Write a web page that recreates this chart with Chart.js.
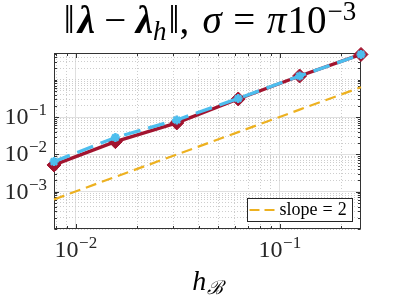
<!DOCTYPE html>
<html><head><meta charset="utf-8">
<script src="https://cdn.jsdelivr.net/npm/chart.js@4.4.1/dist/chart.umd.min.js"></script>
<style>html,body{margin:0;padding:0;background:#fff;overflow:hidden}#wrap{width:399px;height:299px}</style>
</head><body><div id="wrap"><canvas id="c" width="399" height="299"></canvas></div>
<script>
// ---- data ----
const hValues = [1/128, 1/64, 1/32, 1/16, 1/8, 1/4];
const errSolid = [5.2e-3, 2.19e-2, 6.95e-2, 0.305, 1.26, 4.76];
const errDashed = [6.4e-3, 2.84e-2, 8.36e-2, 0.315, 1.26, 4.76];
const slopeRef = [6.2e-4, 2.5e-3, 9.9e-3, 3.95e-2, 0.158, 0.63];
const xTickValues = [1e-2, 1e-1];
const xTickExponents = ['\u22122', '\u22121'];
const yTickValues = [1e-3, 1e-2, 1e-1];
const yTickExponents = ['\u22123', '\u22122', '\u22121'];
const legendLabel = 'slope = 2';
const xRange = [1/128, 1/4];
const yRange = [1e-4, 5.2];

const SERIF = '"Liberation Serif", "DejaVu Serif", serif';
const AXIS_COLOR = '#333333';
const MAJOR_GRID = '#E0E0E0';
const MINOR_GRID = '#CDCDCD';

function gridValues(min, max) {
  const out = [];
  for (let e = Math.floor(Math.log10(min)); e <= Math.ceil(Math.log10(max)); e++) {
    for (let k = 1; k <= 9; k++) {
      const v = k * Math.pow(10, e);
      if (v >= min * 0.999 && v <= max * 1.001) out.push(v);
    }
  }
  return out;
}
function isIn(v, arr) { return arr.some(a => Math.abs(Math.log10(a) - Math.log10(v)) < 1e-6); }

function pts(ys) { return hValues.map((h, i) => ({x: h, y: ys[i]})); }

function drawRich(ctx, segs, x0, baseline, align) {
  let total = 0;
  for (const s of segs) { ctx.font = s.font; s.w = ctx.measureText(s.t).width; total += (s.pre || 0) + s.w + (s.post || 0); }
  let x = align === 'center' ? x0 - total / 2 : (align === 'right' ? x0 - total : x0);
  ctx.textAlign = 'left';
  ctx.textBaseline = 'alphabetic';
  for (const s of segs) {
    x += s.pre || 0;
    ctx.font = s.font;
    ctx.fillText(s.t, x, baseline + (s.dy || 0));
    x += s.w + (s.post || 0);
  }
}

const deco = {
  id: 'deco',
  beforeDatasetsDraw(chart) {
    const ctx = chart.ctx, a = chart.chartArea;
    const xs = chart.scales.x, ys = chart.scales.y;
    ctx.save();
    ctx.strokeStyle = AXIS_COLOR;
    ctx.lineWidth = 1;
    const L = Math.round(a.left) + 0.5, R = Math.round(a.right) - 0.5;
    const T = Math.round(a.top) + 0.5, B = Math.round(a.bottom) - 0.5;
    ctx.strokeRect(L, T, R - L, B - T);
    ctx.beginPath();
    for (const v of gridValues(xRange[0], xRange[1])) {
      const px = Math.round(xs.getPixelForValue(v)) + 0.5;
      const len = isIn(v, xTickValues) ? 4.5 : 2.5;
      ctx.moveTo(px, B); ctx.lineTo(px, B - len);
      ctx.moveTo(px, T); ctx.lineTo(px, T + len);
    }
    for (const v of gridValues(yRange[0], yRange[1])) {
      const py = Math.round(ys.getPixelForValue(v)) + 0.5;
      const len = isIn(v, yTickValues) ? 4.5 : 2.5;
      ctx.moveTo(L, py); ctx.lineTo(L + len, py);
      ctx.moveTo(R, py); ctx.lineTo(R - len, py);
    }
    ctx.stroke();
    ctx.restore();
  },
  afterDraw(chart) {
    const ctx = chart.ctx, a = chart.chartArea;
    const xs = chart.scales.x, ys = chart.scales.y;
    ctx.save();
    ctx.fillStyle = '#262626';
    // y tick labels
    yTickValues.forEach((v, i) => {
      const py = ys.getPixelForValue(v);
      drawRich(ctx, [
        {t: '10', font: `24px ${SERIF}`},
        {t: yTickExponents[i], font: `17px ${SERIF}`, dy: -9, pre: 0.5}
      ], a.left - 7, py + 7, 'right');
    });
    // x tick labels
    xTickValues.forEach((v, i) => {
      const px = xs.getPixelForValue(v);
      drawRich(ctx, [
        {t: '10', font: `24px ${SERIF}`},
        {t: xTickExponents[i], font: `17px ${SERIF}`, dy: -9, pre: 0.5}
      ], px, a.bottom + 28, 'center');
    });
    // x axis label
    ctx.fillStyle = '#000';
    drawRich(ctx, [
      {t: 'h', font: `italic 28px ${SERIF}`},
      {t: '\u212C', font: `italic 19px ${SERIF}`, dy: 4, pre: 0.5}
    ], (a.left + a.right) / 2, 290, 'center');
    // title
    const F = 39, S = 27;
    const reg = `${F}px ${SERIF}`, it = `italic ${F}px ${SERIF}`, bi = `italic bold ${F}px ${SERIF}`;
    drawRich(ctx, [
      {t: '\u2016', font: reg},
      {t: '\u03BB', font: bi, pre: 3},
      {t: '\u2212', font: reg, pre: 0.24 * F, post: 0.24 * F},
      {t: '\u03BB', font: bi},
      {t: 'h', font: `italic ${S}px ${SERIF}`, dy: 7},
      {t: '\u2016', font: reg, pre: 2},
      {t: ',', font: reg},
      {t: '\u03C3', font: it, pre: 0.34 * F},
      {t: '=', font: reg, pre: 0.3 * F, post: 0.3 * F},
      {t: '\u03C0', font: it},
      {t: '10', font: reg, pre: 1},
      {t: '\u22123', font: `${S}px ${SERIF}`, dy: -13, pre: 1}
    ], 210, 33, 'center');
    // legend
    const bw = 105, bh = 23;
    const bx = Math.round(a.right - 9 - bw) + 0.5, by = Math.round(a.bottom - 8 - bh) + 0.5;
    ctx.fillStyle = '#fff';
    ctx.fillRect(bx, by, bw, bh);
    ctx.strokeStyle = '#262626';
    ctx.lineWidth = 1;
    ctx.strokeRect(bx, by, bw, bh);
    const ds = chart.data.datasets[2];
    ctx.strokeStyle = ds.borderColor;
    ctx.lineWidth = ds.borderWidth;
    ctx.setLineDash([10, 5]);
    ctx.beginPath();
    ctx.moveTo(bx + 2, by + bh / 2); ctx.lineTo(bx + 30, by + bh / 2);
    ctx.stroke();
    ctx.setLineDash([]);
    ctx.fillStyle = '#000';
    drawRich(ctx, [
      {t: 'slope', font: `18px ${SERIF}`},
      {t: '=', font: `18px ${SERIF}`, pre: 5, post: 5},
      {t: '2', font: `18px ${SERIF}`}
    ], bx + 32, by + 16, 'left');
    ctx.restore();
  }
};

function gridOpts(ticksArr) {
  return {
    color: c => (c.tick && isIn(c.tick.value, ticksArr)) ? MAJOR_GRID : MINOR_GRID,
    lineWidth: 1,
    drawTicks: false
  };
}
function borderOpts(ticksArr) {
  return {
    display: false,
    dash: c => (c.tick && isIn(c.tick.value, ticksArr)) ? [] : [1, 2]
  };
}

new Chart(document.getElementById('c'), {
  type: 'line',
  data: {
    datasets: [
      {label: 'error (solid)', data: pts(errSolid), borderColor: '#A2142F', backgroundColor: '#A2142F',
       borderWidth: 3.4, pointStyle: 'rectRot', pointRadius: 7, pointBorderWidth: 1, order: 2, clip: false},
      {label: 'error (dashed)', data: pts(errDashed), borderColor: '#4DBEEE', backgroundColor: '#4DBEEE',
       borderWidth: 3.3, borderDash: [17, 8], pointStyle: 'star', pointRadius: 4.5, pointBorderWidth: 2.5, order: 1, clip: false},
      {label: legendLabel, data: pts(slopeRef), borderColor: '#EDB120', backgroundColor: '#EDB120',
       borderWidth: 2.2, borderDash: [11, 6], pointRadius: 0, order: 3, clip: false}
    ]
  },
  options: {
    responsive: false,
    animation: false,
    events: [],
    devicePixelRatio: 1,
    layout: {padding: {left: 54, top: 53, right: 38, bottom: 70}},
    plugins: {legend: {display: false}, title: {display: false}, tooltip: {enabled: false}},
    scales: {
      x: {
        type: 'logarithmic', min: xRange[0], max: xRange[1],
        afterBuildTicks: s => { s.ticks = gridValues(xRange[0], xRange[1]).map(v => ({value: v})); },
        ticks: {display: false},
        grid: gridOpts(xTickValues),
        border: borderOpts(xTickValues)
      },
      y: {
        type: 'logarithmic', min: yRange[0], max: yRange[1],
        afterBuildTicks: s => { s.ticks = gridValues(yRange[0], yRange[1]).map(v => ({value: v})); },
        ticks: {display: false},
        grid: gridOpts(yTickValues),
        border: borderOpts(yTickValues)
      }
    }
  },
  plugins: [deco]
});
</script></body></html>
